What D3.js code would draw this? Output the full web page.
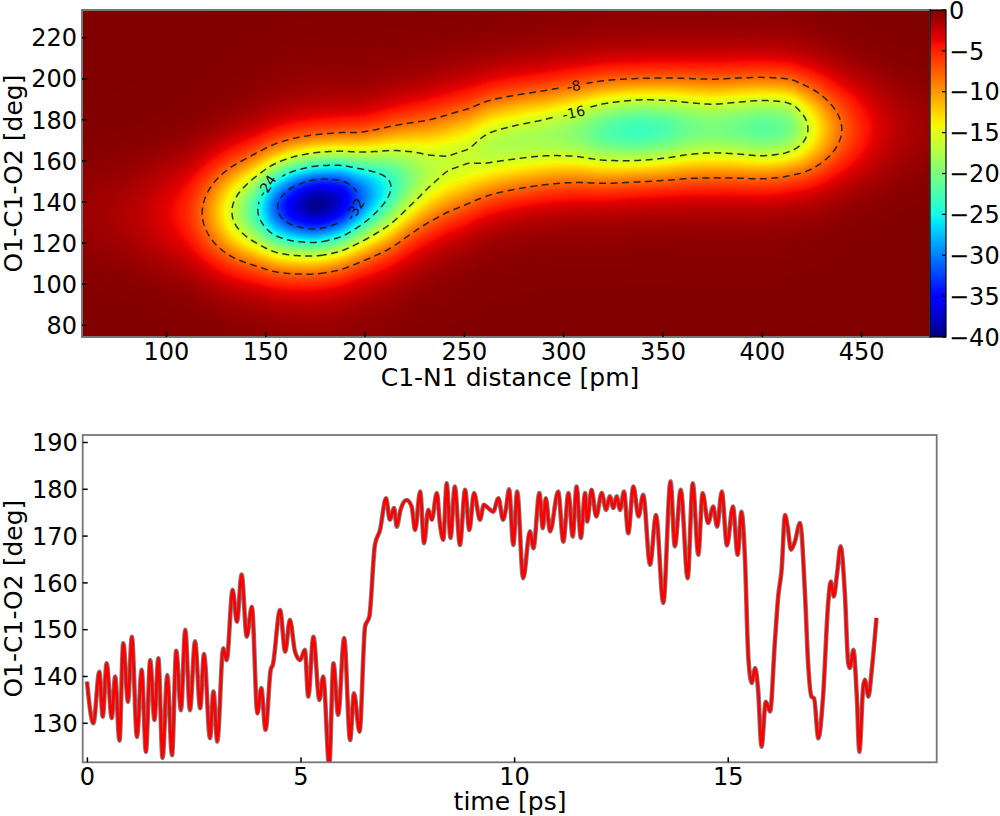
<!DOCTYPE html>
<html><head><meta charset="utf-8">
<script src="https://cdn.jsdelivr.net/npm/d3@7"></script>
<style>
body{margin:0;background:#fff}
svg{display:block}
text{font-family:"DejaVu Sans",sans-serif;fill:#000}
</style>
</head><body>
<svg id="chart" width="1000" height="816"></svg>
<script>
// ---------------- data ----------------
// free-energy ridge along C1-N1 distance: depth, centre angle and angular width
const ridgeX      = [55,80,100,110,118,126,133,140,146,156,166,176,186,196,205,213,223,234,243,251,263,275,288,305,322,338,352,364,375,388,400,410,415,420,427,436,440,450,460,470,487];
const ridgeDepth  = [-0.8,-1.7,-3.5,-5.2,-8,-12,-16,-20,-24,-32,-37.2,-39.5,-37.6,-32.3,-27.5,-24,-19.8,-17,-16.25,-16.25,-17.3,-17.7,-18,-19.3,-22,-23.2,-22.2,-20.7,-20.1,-20.8,-21.6,-21,-19.8,-17.5,-13.9,-9.6,-8,-5,-3,-1.8,-0.8];
const ridgeCenter = [134,134,134.3,134.5,134.7,135,135.3,135.8,136.4,137.3,138.2,139,140.2,142,144.5,147.3,151.5,155.8,159.3,162,166.5,169,171,173.1,174.2,175,175.5,175.8,175.8,176,176,176.2,176.3,175.8,175.6,175.4,175.4,175.4,175.4,175.4,175.4];
const ridgeWidth  = [18.05,18.05,18.05,18.05,18.05,18.05,18.05,18.05,18.05,18.05,18.05,18.05,18.14,18.24,18.72,19.2,19.4,19.4,19.2,18.82,17.95,17.56,17.36,17.17,16.98,16.59,16.78,16.98,17.07,16.98,16.88,16.68,16.59,16.68,16.88,16.88,16.88,16.88,16.88,16.88,16.88];
const tailWeight = 0.06, tailSpread = 2.2;   // broad halo of the basins
const contourLevels = [-32,-24,-16,-8];
const contourLabels = [{v:-8,x:305,y:196.5,a:-9},{v:-16,x:305,y:183.5,a:-13},{v:-24,x:150.5,y:147.8,a:-58},{v:-32,x:195,y:136.5,a:-58}];
const fesXTicks = [100,150,200,250,300,350,400,450];
const fesYTicks = [80,100,120,140,160,180,200,220];
const cbarTicks = [0,-5,-10,-15,-20,-25,-30,-35,-40];

// O1-C1-O2 angle vs time (smoothed trajectory, extrema)
const timePs = [-0.01,0.14,0.28,0.36,0.45,0.57,0.65,0.75,0.84,0.95,1.04,1.16,1.27,1.37,1.47,1.57,1.66,1.76,1.87,1.98,2.08,2.19,2.29,2.40,2.52,2.64,2.73,2.87,2.95,3.04,3.18,3.26,3.40,3.50,3.61,3.73,3.85,3.98,4.07,4.17,4.29,4.34,4.51,4.63,4.74,4.86,4.98,5.09,5.17,5.29,5.43,5.52,5.66,5.76,5.87,6.01,6.15,6.24,6.37,6.50,6.60,6.73,6.85,6.99,7.08,7.18,7.24,7.33,7.47,7.59,7.67,7.79,7.88,7.98,8.06,8.18,8.25,8.33,8.41,8.50,8.60,8.72,8.84,8.94,9.05,9.19,9.28,9.38,9.50,9.62,9.73,9.80,9.87,9.97,10.06,10.20,10.36,10.44,10.58,10.66,10.73,10.83,11.02,11.14,11.26,11.36,11.45,11.55,11.65,11.70,11.80,11.91,12.04,12.14,12.23,12.31,12.39,12.47,12.56,12.66,12.78,12.90,13.01,13.17,13.31,13.48,13.65,13.75,13.89,14.05,14.17,14.30,14.40,14.53,14.65,14.74,14.85,14.97,15.11,15.22,15.31,15.39,15.47,15.55,15.63,15.70,15.78,15.88,15.98,16.09,16.17,16.25,16.33,16.39,16.47,16.56,16.68,16.80,16.87,16.95,17.01,17.11,17.22,17.34,17.40,17.47,17.55,17.63,17.73,17.81,17.85,17.93,18.01,18.07,18.16,18.20,18.28,18.36,18.47];
const angleDeg = [138.9,130,141,131.4,142.8,131.1,140,126.3,147.1,134.6,148.5,127.1,141.4,123.9,143.5,130.7,143.9,122.6,140.3,123.2,145.5,132.8,150,132.8,147.5,133.2,144.8,126.8,136.8,126.1,146,143.5,158.5,151.7,161.8,148.5,154.9,132.1,137.5,128.6,141.4,142.5,154.2,145.3,152.1,145.3,143.5,145.7,135.7,148.5,135,140,121,142.8,131.8,148.2,126.4,136.4,128.2,150.7,152.8,168.1,171.3,178.1,173.5,176,172,175.6,177.7,176.3,171.3,179.5,168.5,175.6,173.5,179.2,172.8,169.2,181.3,169.6,180.6,168.1,179.9,171.3,179.2,173.5,176.7,176,175.2,178.1,173.5,176,180,168.1,179.5,161,171,167.4,179.2,171.7,178.1,171,179.5,168.8,179.2,169.9,180.6,169.6,179.2,173.1,179.9,174.2,179.2,175.6,178.5,176,178.5,175.6,179.5,170.6,180.6,174.2,178.8,163.9,174.5,155.7,181.7,167.8,179.9,161,181.3,166,179.2,172.8,176.3,172,179.5,168,176.3,166,175.2,165.6,144.2,138.6,141.8,137.1,125,134.6,132.5,147.1,157.1,162.8,174.5,172,167.1,168.8,172.8,157.1,142.8,135.7,135.3,126.8,135.7,155.7,160.3,157.1,162.1,167.8,157.8,142.8,141.8,145.7,135.7,123.9,137.8,139.3,135.7,141.4,152.5];
const timeTicks = [0,5,10,15];
const angleTicks = [130,140,150,160,170,180,190];

// ---------------- helpers ----------------
function monotone(xs, ys) {
  const n = xs.length, d = [], m = new Array(n);
  for (let i = 0; i < n - 1; i++) d.push((ys[i+1]-ys[i])/(xs[i+1]-xs[i]));
  m[0] = d[0]; m[n-1] = d[n-2];
  for (let i = 1; i < n - 1; i++) {
    if (d[i-1]*d[i] <= 0) m[i] = 0;
    else { const h0 = xs[i]-xs[i-1], h1 = xs[i+1]-xs[i];
      const w1 = 2*h1+h0, w2 = h1+2*h0; m[i] = (w1+w2)/(w1/d[i-1]+w2/d[i]); }
  }
  return x => {
    if (x <= xs[0]) return ys[0]; if (x >= xs[n-1]) return ys[n-1];
    const i = Math.min(n-2, d3.bisectRight(xs, x) - 1);
    const h = xs[i+1]-xs[i], t = (x-xs[i])/h, t2 = t*t, t3 = t2*t;
    return (2*t3-3*t2+1)*ys[i] + (t3-2*t2+t)*h*m[i] + (-2*t3+3*t2)*ys[i+1] + (t3-t2)*h*m[i+1];
  };
}
const jetR=[[0,0],[0.35,0],[0.66,1],[0.89,1],[1,0.5]];
const jetG=[[0,0],[0.125,0],[0.375,1],[0.64,1],[0.91,0],[1,0]];
const jetB=[[0,0.5],[0.11,1],[0.34,1],[0.65,0],[1,0]];
function seg(pts,t){for(let i=1;i<pts.length;i++){if(t<=pts[i][0]){const a=pts[i-1],b=pts[i];return a[1]+(b[1]-a[1])*(t-a[0])/(b[0]-a[0]);}}return pts[pts.length-1][1];}
function jet(t){t=Math.max(0,Math.min(1,t));return [seg(jetR,t),seg(jetG,t),seg(jetB,t)];}

const svg = d3.select('#chart');
const FONT = 24, TITLE = 25;

// ---------------- top: free-energy surface ----------------
const L1 = 82, R1 = 930, T1 = 10, B1 = 337;
const xFes = d3.scaleLinear([57.5, 484.4], [L1, R1]);
const yFes = d3.scaleLinear([74.3, 233.5], [B1, T1]);
const cNorm = d3.scaleLinear([-40, 0], [0, 1]).clamp(true);
const depthAt = monotone(ridgeX, ridgeDepth), centerAt = monotone(ridgeX, ridgeCenter), widthAt = monotone(ridgeX, ridgeWidth);

const W = R1 - L1, H = B1 - T1;
const grid = new Float64Array(W*H);
const canvas = document.createElement('canvas'); canvas.width = W; canvas.height = H;
const ctx = canvas.getContext('2d'); const img = ctx.createImageData(W, H);
for (let i = 0; i < W; i++) {
  const x = xFes.invert(L1 + i + 0.5);
  const p = depthAt(x), c = centerAt(x), s = widthAt(x);
  for (let j = 0; j < H; j++) {
    const y = yFes.invert(T1 + j + 0.5);
    const u2 = ((y-c)*(y-c))/(s*s);
    const v = p * ((1 - tailWeight) * Math.exp(-u2/2) + tailWeight * Math.exp(-u2/(2*tailSpread*tailSpread)));
    grid[j*W+i] = v;
    const col = jet(cNorm(v)), k = 4*(j*W+i);
    img.data[k] = Math.round(col[0]*255); img.data[k+1] = Math.round(col[1]*255); img.data[k+2] = Math.round(col[2]*255); img.data[k+3] = 255;
  }
}
ctx.putImageData(img, 0, 0);
svg.append('image').attr('x', L1).attr('y', T1).attr('width', W).attr('height', H)
  .attr('preserveAspectRatio', 'none').attr('href', canvas.toDataURL());

// contour label gaps via mask
const defs = svg.append('defs');
const mask = defs.append('mask').attr('id', 'lblmask').attr('maskUnits', 'userSpaceOnUse')
  .attr('x', 0).attr('y', 0).attr('width', 1000).attr('height', 816);
mask.append('rect').attr('width', 1000).attr('height', 816).attr('fill', '#fff');
contourLabels.forEach(d => {
  const w = String(d.v).length * 9 + 8;
  mask.append('rect').attr('x', -w/2).attr('y', -8).attr('width', w).attr('height', 16).attr('fill', '#000')
    .attr('transform', `translate(${xFes(d.x)},${yFes(d.y)}) rotate(${d.a})`);
});
const contours = d3.contours().size([W, H]).thresholds(contourLevels.map(l => -l))(Array.from(grid, v => -v));
const cpath = d3.geoPath(d3.geoTransform({point(x, y) { this.stream.point(L1 + x, T1 + y); }}));
svg.append('g').attr('mask', 'url(#lblmask)').selectAll('path').data(contours).join('path')
  .attr('d', cpath).attr('fill', 'none').attr('stroke', '#1a1a1a').attr('stroke-width', 1.5)
  .attr('stroke-dasharray', '7,4.5').attr('stroke-opacity', 0.9);
svg.append('g').selectAll('text').data(contourLabels).join('text')
  .attr('transform', d => `translate(${xFes(d.x)},${yFes(d.y)}) rotate(${d.a})`)
  .attr('text-anchor', 'middle').attr('dy', '0.35em').style('font-size', '14px').style('fill', '#111')
  .text(d => String(d.v));

// frame + ticks
const frame1 = svg.append('g');
frame1.append('rect').attr('x', L1).attr('y', T1).attr('width', W).attr('height', H)
  .attr('fill', 'none').attr('stroke', '#777').attr('stroke-width', 2);
frame1.selectAll('line.xt').data(fesXTicks).join('line').attr('class','xt')
  .attr('x1', d => xFes(d)).attr('x2', d => xFes(d)).attr('y1', B1).attr('y2', B1 - 5)
  .attr('stroke', '#000').attr('stroke-width', 1.5);
frame1.selectAll('line.yt').data(fesYTicks).join('line').attr('class','yt')
  .attr('y1', d => yFes(d)).attr('y2', d => yFes(d)).attr('x1', L1).attr('x2', L1 + 5)
  .attr('stroke', '#000').attr('stroke-width', 1.5);
frame1.selectAll('text.xl').data(fesXTicks).join('text').attr('class','xl')
  .attr('x', d => xFes(d)).attr('y', B1 + 23).attr('text-anchor', 'middle').style('font-size', FONT+'px').text(d => d);
frame1.selectAll('text.yl').data(fesYTicks).join('text').attr('class','yl')
  .attr('x', L1 - 5).attr('y', d => yFes(d)).attr('dy', '0.36em').attr('text-anchor', 'end').style('font-size', FONT+'px').text(d => d);
svg.append('text').attr('x', 510).attr('y', B1 + 49).attr('text-anchor', 'middle').style('font-size', TITLE+'px').text('C1-N1 distance [pm]');
svg.append('text').attr('transform', `translate(22,${(T1+B1)/2}) rotate(-90)`).attr('text-anchor', 'middle')
  .style('font-size', TITLE+'px').text('O1-C1-O2 [deg]');

// colorbar
const CX0 = 930, CX1 = 946;
const yCb = d3.scaleLinear([-40, 0], [B1, T1]);
const grad = defs.append('linearGradient').attr('id', 'jetgrad').attr('x1', 0).attr('y1', 1).attr('x2', 0).attr('y2', 0);
d3.range(0, 1.0001, 0.01).forEach(t => { const c = jet(t);
  grad.append('stop').attr('offset', t).attr('stop-color', d3.rgb(c[0]*255, c[1]*255, c[2]*255)); });
svg.append('rect').attr('x', CX0).attr('y', T1).attr('width', CX1 - CX0).attr('height', H)
  .attr('fill', 'url(#jetgrad)').attr('stroke', '#000').attr('stroke-width', 1.2);
svg.append('g').selectAll('line').data(cbarTicks).join('line')
  .attr('x1', CX1 - 4).attr('x2', CX1).attr('y1', d => yCb(d)).attr('y2', d => yCb(d)).attr('stroke', '#000').attr('stroke-width', 1.2);
svg.append('g').selectAll('text').data(cbarTicks).join('text')
  .attr('x', CX1 + 3).attr('y', d => yCb(d)).attr('dy', '0.36em').style('font-size', FONT+'px')
  .text(d => d === 0 ? '0' : '\u2212' + Math.abs(d));

// ---------------- bottom: angle vs time ----------------
const L2 = 82.7, R2 = 936.7, T2 = 435, B2 = 762.3;
const xTime = d3.scaleLinear([-0.11, 19.88], [L2, R2]);
const yAng = d3.scaleLinear([121.66, 191.6], [B2, T2]);
defs.append('clipPath').attr('id', 'clip2').append('rect').attr('x', L2).attr('y', T2).attr('width', R2 - L2).attr('height', B2 - T2);
const series = timePs.map((t, i) => [t, angleDeg[i]]);
const line = d3.line().x(d => xTime(d[0])).y(d => yAng(d[1])).curve(d3.curveMonotoneX);
const g2 = svg.append('g').attr('clip-path', 'url(#clip2)');
g2.append('path').datum(series).attr('d', line).attr('fill', 'none').attr('stroke', '#7f7f7f').attr('stroke-width', 4.6).attr('stroke-linejoin', 'round');
g2.append('path').datum(series).attr('d', line).attr('fill', 'none').attr('stroke', '#ff0000').attr('stroke-width', 2.8).attr('stroke-linejoin', 'round');

const frame2 = svg.append('g');
frame2.append('rect').attr('x', L2).attr('y', T2).attr('width', R2 - L2).attr('height', B2 - T2)
  .attr('fill', 'none').attr('stroke', '#777').attr('stroke-width', 1.8);
frame2.selectAll('line.xt').data(timeTicks).join('line').attr('class','xt')
  .attr('x1', d => xTime(d)).attr('x2', d => xTime(d)).attr('y1', B2).attr('y2', B2 - 5).attr('stroke', '#000').attr('stroke-width', 1.5);
frame2.selectAll('line.yt').data(angleTicks).join('line').attr('class','yt')
  .attr('y1', d => yAng(d)).attr('y2', d => yAng(d)).attr('x1', L2).attr('x2', L2 + 5).attr('stroke', '#000').attr('stroke-width', 1.5);
frame2.selectAll('text.xl').data(timeTicks).join('text').attr('class','xl')
  .attr('x', d => xTime(d)).attr('y', B2 + 23).attr('text-anchor', 'middle').style('font-size', FONT+'px').text(d => d);
frame2.selectAll('text.yl').data(angleTicks).join('text').attr('class','yl')
  .attr('x', L2 - 5).attr('y', d => yAng(d)).attr('dy', '0.36em').attr('text-anchor', 'end').style('font-size', FONT+'px').text(d => d);
svg.append('text').attr('x', 510).attr('y', B2 + 48).attr('text-anchor', 'middle').style('font-size', TITLE+'px').text('time [ps]');
svg.append('text').attr('transform', `translate(22,${(T2+B2)/2}) rotate(-90)`).attr('text-anchor', 'middle')
  .style('font-size', TITLE+'px').text('O1-C1-O2 [deg]');
</script>
</body></html>
